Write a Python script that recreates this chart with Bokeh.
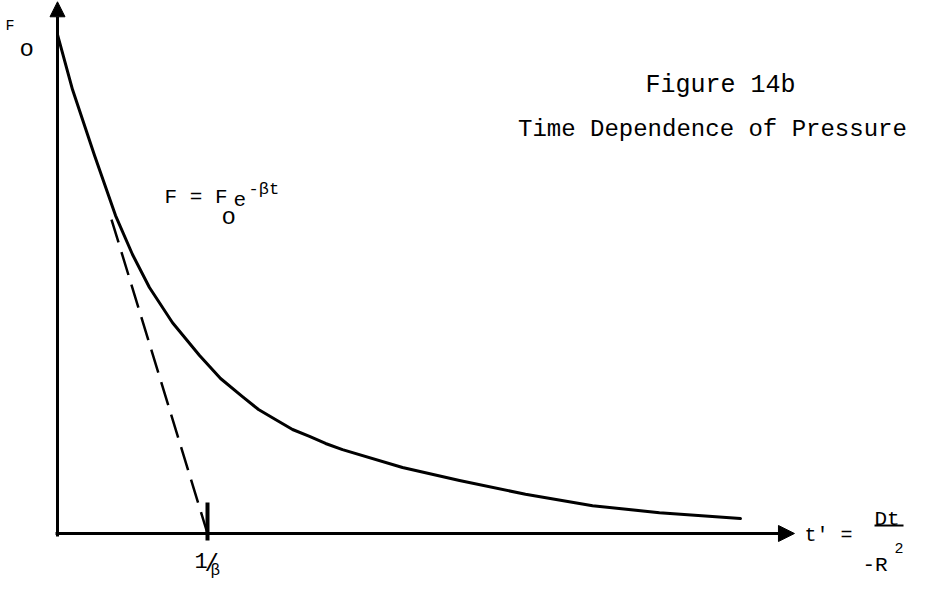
from bokeh.plotting import figure
from bokeh.models import Range1d, Arrow, NormalHead, Label
from bokeh.embed import file_html
from bokeh.resources import INLINE

# ---- data (t' in units of 1/beta, F in units of F0) ----
t_curve = [0.0, 0.1, 0.247, 0.387, 0.5, 0.613, 0.767, 0.947, 1.087, 1.233, 1.34, 1.453,
           1.567, 1.68, 1.787, 1.9, 2.3, 2.68, 3.12, 3.567, 4.013, 4.553]
F_curve = [1.006, 0.895, 0.762, 0.641, 0.5625, 0.496, 0.425, 0.359, 0.3125, 0.276, 0.25, 0.230,
           0.2097, 0.196, 0.1815, 0.169, 0.133, 0.107, 0.079, 0.056, 0.042, 0.030]

t_tangent = [0.36, 1.0]
F_tangent = [0.633, 0.0]

inv_beta = 1.0          # position of 1/beta on the t' axis
tick_F = [0.0625, -0.014]

x_axis_end = 4.913
y_axis_end = 1.072

title_1 = "Figure 14b"
title_2 = "Time Dependence of Pressure"

FONT = "Liberation Mono"

p = figure(width=911, height=580, output_backend="svg", toolbar_location=None,
           x_range=Range1d(-0.38, 5.6933), y_range=Range1d(-0.09476, 1.0746),
           min_border=0, min_border_left=0, min_border_right=0,
           min_border_top=0, min_border_bottom=0)
p.axis.visible = False
p.grid.visible = False
p.outline_line_color = None
p.background_fill_color = "white"
p.border_fill_color = "white"

# axes drawn as arrows
p.add_layout(Arrow(end=NormalHead(size=16, fill_color="black", line_color="black"),
                   x_start=-0.013, y_start=0, x_end=x_axis_end, y_end=0,
                   line_width=3, line_color="black"))
p.add_layout(Arrow(end=NormalHead(size=15, fill_color="black", line_color="black"),
                   x_start=0, y_start=-0.006, x_end=0, y_end=y_axis_end,
                   line_width=3, line_color="black"))

# decay curve
p.line(t_curve, F_curve, line_width=3, line_color="black", line_join="round", line_cap="round")

# tangent (dashed)
p.line(t_tangent, F_tangent, line_width=2.5, line_color="black", line_dash="24 10")

# tick at 1/beta
p.line([inv_beta, inv_beta], tick_F, line_width=4, line_color="black")


def lab(x, y, text, size, font=FONT):
    p.add_layout(Label(x=x, y=y, text=text, text_font=font, text_font_size=size,
                       text_color="black", text_baseline="alphabetic"))


# titles
lab(3.92, 0.9032, title_1, "25px")
lab(3.07, 0.8145, title_2, "24px")

# formula F = F_o e^{-beta t}
lab(0.7133, 0.6774, "F = F", "21px")
lab(1.0933, 0.6371, "o", "24px")
lab(1.1733, 0.6734, "e", "21px")
lab(1.2733, 0.6935, "-\u03b2t", "17px")

# y label F_o
lab(-0.3467, 1.0222, "F", "15px")
lab(-0.2533, 0.9758, "o", "24px")

# 1/beta label
lab(0.9133, -0.0544, "1", "22px")
lab(0.98, -0.0625, "/", "24px")
lab(1.02, -0.0746, "\u03b2", "16px")

# x label t' = Dt/R^2
lab(4.98, -0.004, "t' =", "20px")
lab(5.4467, 0.0282, "Dt", "21px")
p.line([5.4467, 5.64], [0.0161, 0.0161], line_width=2, line_color="black")
lab(5.3667, -0.0645, "-R", "21px")
lab(5.58, -0.0302, "2", "15px")

open("out.html", "w").write(file_html(p, INLINE))
